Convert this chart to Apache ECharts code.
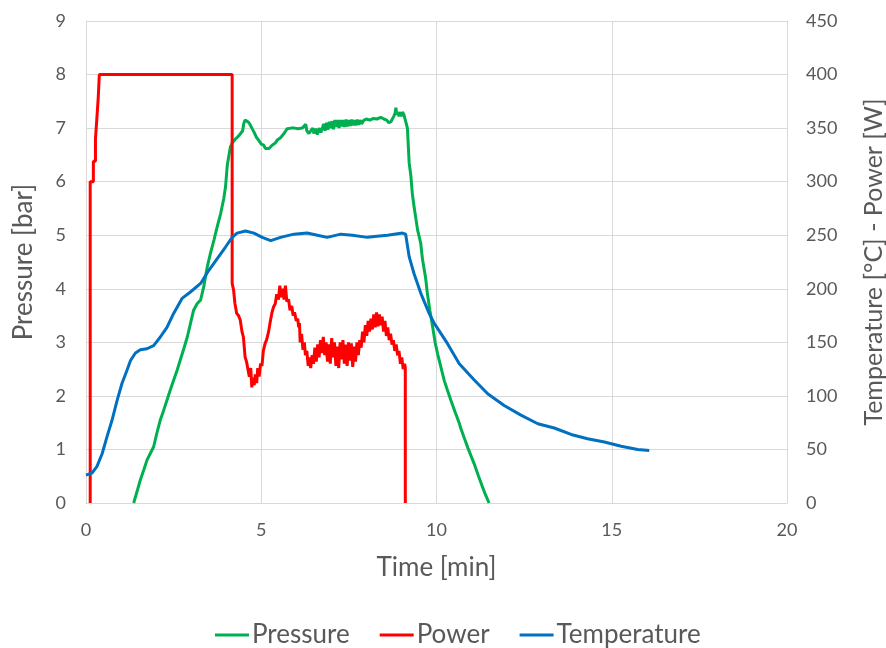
<!DOCTYPE html>
<html>
<head>
<meta charset="utf-8">
<script src="https://cdn.jsdelivr.net/npm/echarts@6/dist/echarts.min.js"></script>
<style>html,body{margin:0;padding:0;background:#fff;overflow:hidden;width:886px;height:648px}#c{width:886px;height:648px}</style>
</head>
<body>
<div id="c"></div>
<script>
// ---- data ----
const seriesNames = ['Pressure', 'Power', 'Temperature'];
const xTicks = [0, 5, 10, 15, 20];
const leftTicks = [0, 1, 2, 3, 4, 5, 6, 7, 8, 9];
const rightTicks = [0, 50, 100, 150, 200, 250, 300, 350, 400, 450];

const pressureTime = [1.36,1.45,1.55,1.65,1.74,1.83,1.93,2.02,2.12,2.21,2.31,2.40,2.50,2.60,2.69,2.79,2.89,2.98,3.07,3.17,3.27,3.36,3.46,3.55,3.65,3.74,3.84,3.93,3.98,4.03,4.07,4.12,4.17,4.27,4.35,4.41,4.47,4.50,4.54,4.58,4.62,4.67,4.74,4.79,4.86,4.93,5.00,5.07,5.12,5.17,5.22,5.31,5.40,5.46,5.55,5.65,5.74,5.85,5.95,6.05,6.17,6.22,6.27,6.30,6.36,6.41,6.47,6.50,6.55,6.60,6.65,6.70,6.74,6.78,6.82,6.86,6.90,6.94,6.98,7.02,7.06,7.10,7.14,7.18,7.22,7.26,7.30,7.34,7.38,7.42,7.46,7.50,7.54,7.58,7.62,7.66,7.70,7.74,7.78,7.82,7.86,7.93,8.00,8.10,8.20,8.30,8.41,8.50,8.58,8.64,8.70,8.74,8.78,8.82,8.84,8.87,8.90,8.93,8.97,9.00,9.03,9.07,9.12,9.17,9.22,9.27,9.31,9.36,9.46,9.55,9.60,9.69,9.74,9.81,9.89,9.96,10.03,10.12,10.22,10.31,10.41,10.53,10.65,10.69,10.80,10.90,11.07,11.20,11.30,11.40,11.50];
const pressureBar = [0,0.2,0.43,0.62,0.80,0.92,1.05,1.30,1.55,1.72,1.92,2.10,2.29,2.48,2.67,2.88,3.10,3.35,3.60,3.72,3.79,4.04,4.41,4.66,4.91,5.15,5.40,5.68,5.90,6.30,6.46,6.65,6.72,6.80,6.85,6.90,6.95,7.08,7.15,7.18,7.12,7.08,6.99,6.93,6.83,6.77,6.70,6.68,6.62,6.60,6.62,6.68,6.72,6.78,6.82,6.90,6.99,7.00,7.00,6.99,7.00,7.02,7.07,6.95,6.90,6.93,7.00,6.90,6.99,6.88,7.00,6.92,6.99,7.08,6.95,7.10,6.97,7.12,7.00,7.13,6.98,7.15,7.02,7.15,7.00,7.15,7.03,7.15,7.02,7.16,7.03,7.15,7.04,7.16,7.05,7.15,7.05,7.16,7.06,7.15,7.08,7.15,7.17,7.15,7.18,7.17,7.20,7.17,7.15,7.10,7.12,7.15,7.22,7.28,7.38,7.25,7.30,7.22,7.30,7.22,7.30,7.25,7.22,7.00,6.35,6.10,5.78,5.53,5.10,4.85,4.55,4.20,3.91,3.60,3.29,3.00,2.79,2.55,2.29,2.11,1.92,1.70,1.49,1.40,1.20,1.02,0.74,0.50,0.32,0.15,0];

const powerTime = [0.12,0.12,0.21,0.21,0.27,0.27,0.31,0.31,0.35,0.35,0.38,0.38,4.17,4.17,4.21,4.25,4.30,4.35,4.40,4.45,4.49,4.54,4.58,4.62,4.66,4.70,4.73,4.76,4.80,4.83,4.87,4.90,4.94,4.98,5.02,5.06,5.11,5.15,5.21,5.25,5.30,5.35,5.40,5.44,5.49,5.53,5.57,5.61,5.65,5.69,5.73,5.78,5.82,5.87,5.91,5.95,6.00,6.04,6.07,6.09,6.11,6.15,6.19,6.23,6.26,6.30,6.34,6.38,6.41,6.45,6.49,6.53,6.57,6.61,6.65,6.69,6.73,6.77,6.81,6.85,6.89,6.93,6.97,7.01,7.05,7.09,7.13,7.17,7.21,7.25,7.29,7.33,7.37,7.41,7.45,7.49,7.53,7.57,7.61,7.65,7.69,7.73,7.77,7.81,7.85,7.89,7.93,7.97,8.01,8.05,8.09,8.13,8.17,8.21,8.25,8.29,8.33,8.37,8.41,8.45,8.49,8.53,8.57,8.61,8.65,8.69,8.73,8.77,8.81,8.85,8.89,8.93,8.97,9.01,9.05,9.09,9.11,9.11];
const powerW = [0,300,300,319,319,340,340,359,359,379,379,400,400,205,199,186,177,175,171,160,155,136,132,125,118,126,108,117,110,120,112,126,118,130,128,142,149,152,160,168,177,183,186,195,190,203,192,200,190,203,188,190,180,184,175,178,170,172,164,168,150,158,143,150,138,142,128,136,126,138,130,145,132,148,136,152,140,155,138,150,132,148,130,154,136,150,128,146,126,150,134,152,130,148,128,150,133,149,127,146,132,150,138,152,145,160,150,166,156,170,160,172,162,176,164,178,165,176,166,174,160,170,156,164,152,158,148,152,142,148,138,142,130,136,125,130,126,0];

const tempTime = [0,0.17,0.31,0.46,0.60,0.74,0.89,1.03,1.17,1.27,1.41,1.55,1.74,1.93,2.12,2.31,2.50,2.74,2.98,3.27,3.50,3.74,3.98,4.17,4.31,4.55,4.79,5.03,5.27,5.55,5.93,6.31,6.60,6.88,7.27,7.60,8.03,8.30,8.60,9.03,9.12,9.22,9.36,9.55,9.79,9.93,10.03,10.31,10.65,11.07,11.46,11.93,12.41,12.89,13.36,13.84,14.31,14.79,15.27,15.74,16.07];
const tempC = [26,28,34,46,62,77,96,112,124,133,140,143,144,147,155,164,177,191,197,205,217,228,239,248,252,254,252,248,245,248,251,252,250,248,251,250,248,249,250,252,251,230,214,196,177,168,163,149,130,115,102,91,82,74,70,64,60,57,53,50,49];

// ---- build ----
const zip = (a, b) => a.map((t, i) => [t, b[i]]);
const txt = '#595959';
const FONT = 'Lato';
const chart = echarts.init(document.getElementById('c'), null, {renderer: 'canvas', width: 886, height: 648});
chart.setOption({
  backgroundColor: '#ffffff',
  animation: false,
  textStyle: {fontFamily: FONT, color: txt},
  grid: {left: 86, right: 99, top: 21, bottom: 145, containLabel: false, outerBoundsMode: 'none'},
  legend: {
    data: seriesNames,
    top: 617,
    left: 210,
    itemWidth: 34,
    itemHeight: 3,
    itemGap: 30,
    icon: 'rect',
    textStyle: {fontFamily: FONT, fontSize: 26, color: txt, padding: [0, 0, 0, -2]}
  },
  xAxis: {
    type: 'value', min: xTicks[0], max: xTicks[xTicks.length - 1], interval: 5,
    name: 'Time [min]', nameLocation: 'middle', nameGap: 52,
    nameTextStyle: {fontFamily: FONT, fontSize: 26, color: txt},
    axisLine: {show: true, lineStyle: {color: '#d9d9d9', width: 1}},
    axisTick: {show: false},
    axisLabel: {fontFamily: FONT, fontSize: 18, color: txt, margin: 18},
    splitLine: {show: true, lineStyle: {color: '#d9d9d9', width: 1}}
  },
  yAxis: [{
    type: 'value', min: leftTicks[0], max: leftTicks[leftTicks.length - 1], interval: 1,
    name: 'Pressure [bar]', nameLocation: 'middle', nameGap: 49, nameRotate: 90,
    nameTextStyle: {fontFamily: FONT, fontSize: 26, color: txt},
    axisLine: {show: true, lineStyle: {color: '#d9d9d9', width: 1}},
    axisTick: {show: false},
    axisLabel: {fontFamily: FONT, fontSize: 18, color: txt, margin: 20},
    splitLine: {show: true, lineStyle: {color: '#d9d9d9', width: 1}}
  }, {
    type: 'value', position: 'right', min: rightTicks[0], max: rightTicks[rightTicks.length - 1], interval: 50,
    name: 'Temperature [°C] - Power [W]', nameLocation: 'middle', nameGap: 74, nameRotate: 90,
    nameTextStyle: {fontFamily: FONT, fontSize: 25, color: txt},
    axisLine: {show: true, lineStyle: {color: '#d9d9d9', width: 1}},
    axisTick: {show: false},
    axisLabel: {fontFamily: FONT, fontSize: 18, color: txt, margin: 19},
    splitLine: {show: false}
  }],
  series: [
    {name: 'Pressure', type: 'line', yAxisIndex: 0, data: zip(pressureTime, pressureBar),
     symbol: 'none', lineStyle: {color: '#00b050', width: 3}, itemStyle: {color: '#00b050'}},
    {name: 'Power', type: 'line', yAxisIndex: 1, data: zip(powerTime, powerW),
     symbol: 'none', lineStyle: {color: '#ff0000', width: 3}, itemStyle: {color: '#ff0000'}},
    {name: 'Temperature', type: 'line', yAxisIndex: 1, data: zip(tempTime, tempC),
     symbol: 'none', lineStyle: {color: '#0070c0', width: 3}, itemStyle: {color: '#0070c0'}}
  ]
});
</script>
</body>
</html>
